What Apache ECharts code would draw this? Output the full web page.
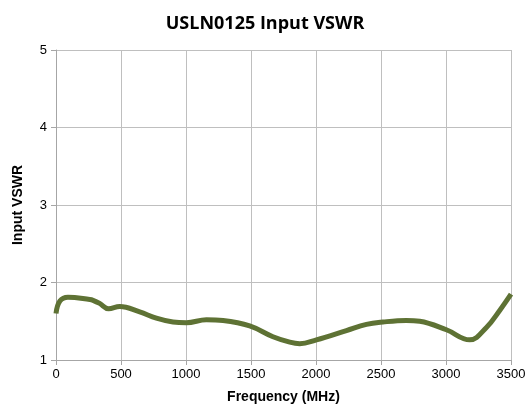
<!DOCTYPE html>
<html>
<head>
<meta charset="utf-8">
<script src="https://cdn.jsdelivr.net/npm/echarts@6/dist/echarts.min.js"></script>
<style>
html, body { margin: 0; padding: 0; background: #fff; }
#chart { width: 530px; height: 418px; }
</style>
</head>
<body>
<div id="chart"></div>
<script>
var freq = [0, 30, 92, 260, 285, 336, 405, 490, 644, 772, 900, 1003, 1157, 1285, 1490, 1669, 1798, 1875, 2003, 2234, 2388, 2515, 2695, 2798, 3003, 3182, 3311, 3413, 3500];
var vswr = [1.60, 1.76, 1.81, 1.78, 1.77, 1.73, 1.66, 1.69, 1.62, 1.54, 1.49, 1.48, 1.52, 1.51, 1.44, 1.30, 1.23, 1.21, 1.26, 1.38, 1.46, 1.49, 1.51, 1.50, 1.39, 1.26, 1.42, 1.64, 1.85];
var xTicks = [0, 500, 1000, 1500, 2000, 2500, 3000, 3500];
var yTicks = [1, 2, 3, 4, 5];

var chart = echarts.init(document.getElementById('chart'));
var pts = freq.map(function (f, i) { return [f, vswr[i]]; });

chart.setOption({
    animation: false,
    title: {
        text: 'USLN0125 Input VSWR',
        left: 'center',
        top: 10,
        textStyle: { fontFamily: 'Open Sans', fontWeight: 'bold', fontSize: 18, color: '#000' }
    },
    grid: { left: 56, right: 19, top: 50, bottom: 58 },
    xAxis: {
        type: 'value',
        min: xTicks[0],
        max: xTicks[xTicks.length - 1],
        interval: 500,
        name: 'Frequency (MHz)',
        nameLocation: 'middle',
        nameGap: 30,
        nameTextStyle: { fontFamily: 'Liberation Sans', fontWeight: 'bold', fontSize: 14, color: '#000' },
        axisLine: { lineStyle: { color: '#a6a6a6' } },
        axisTick: { show: true, length: 5, lineStyle: { color: '#a6a6a6' } },
        axisLabel: { fontFamily: 'Liberation Sans', fontSize: 13, color: '#000', margin: 8,
            formatter: function (v) { return String(v); } },
        splitLine: { show: true, lineStyle: { color: '#bfbfbf' } }
    },
    yAxis: {
        type: 'value',
        min: yTicks[0],
        max: yTicks[yTicks.length - 1],
        interval: 1,
        name: 'Input VSWR',
        nameLocation: 'middle',
        nameGap: 31,
        nameTextStyle: { fontFamily: 'Liberation Sans', fontWeight: 'bold', fontSize: 14, color: '#000' },
        axisLine: { show: true, lineStyle: { color: '#a6a6a6' } },
        axisTick: { show: true, length: 5, lineStyle: { color: '#a6a6a6' } },
        axisLabel: { fontFamily: 'Liberation Sans', fontSize: 13, color: '#000', margin: 9 },
        splitLine: { show: true, lineStyle: { color: '#bfbfbf' } }
    },
    series: [{
        type: 'line',
        data: pts,
        smooth: 0.4,
        showSymbol: false,
        lineStyle: { color: '#5e7234', width: 5 }
    }]
});
</script>
</body>
</html>
